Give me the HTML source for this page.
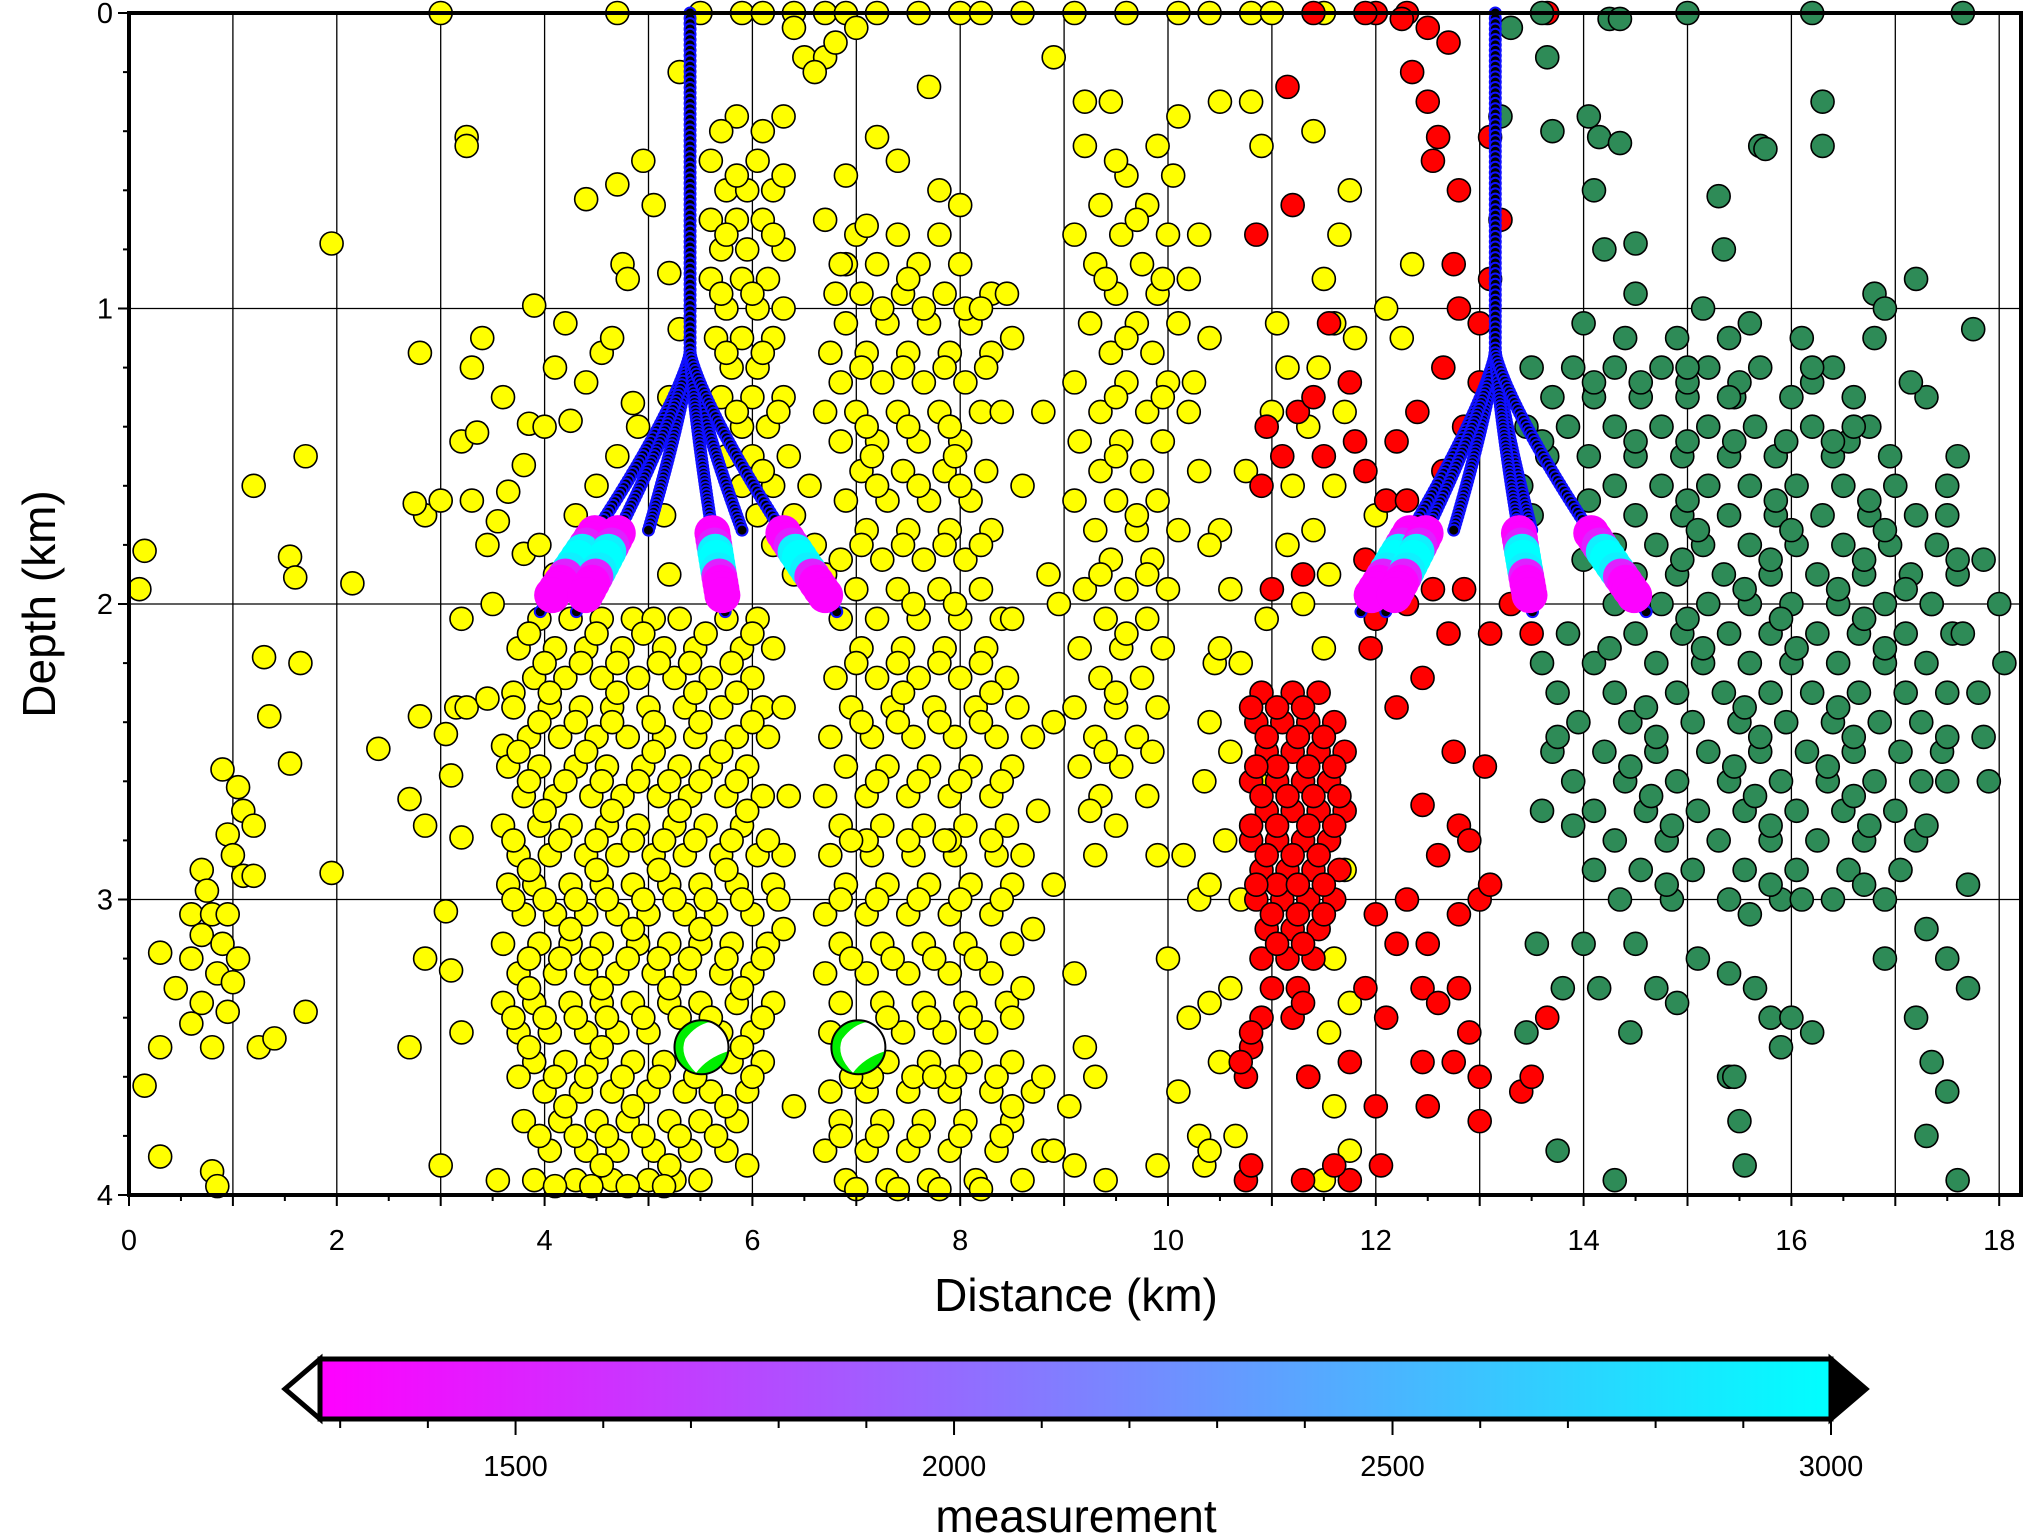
<!DOCTYPE html>
<html><head><meta charset="utf-8"><style>
html,body{margin:0;padding:0;background:#fff}
svg{display:block;font-family:"Liberation Sans",Arial,sans-serif}
</style></head><body>
<svg id="chart" width="2025" height="1537" viewBox="0 0 2025 1537">
<g id="grid"></g>
<g id="pts"></g>
<g id="wells"></g>
<g id="balls"></g>
<g id="axes"></g>
<g id="cbar"></g>
</svg>
<script>
const xTicks=[0,2,4,6,8,10,12,14,16,18];
const yTicks=[0,1,2,3,4];
const cbTicks=[1500,2000,2500,3000];
const cbMin=1277, cbMax=3000;
// yellow events: rows of [depth, x...]
const yellowRows=[
[0,3.0,4.7,5.5,5.9,6.1,6.4,6.7,6.9,7.2,7.6,8.0,8.2,8.6,9.1,9.6,10.1,10.4,10.8,11.0,11.5],
[2.56,0.9],[2.62,1.05],[2.7,1.1],[2.75,1.2],[2.78,0.95],[2.85,1.0],[2.9,0.7],[2.92,1.1,1.2],[2.97,0.75],[3.05,0.6,0.8,0.95],[3.12,0.7],[3.15,0.9],[3.2,1.05,0.6],[3.25,0.85],[3.28,1.0],[3.3,0.45],[3.35,0.7],[3.42,0.6],[3.38,0.95,1.7],[3.5,0.8,0.3,1.25],[3.47,1.4],[3.63,0.15],[3.87,0.3],[3.92,0.8],[3.97,0.85],[3.18,0.3],
[1.82,0.15],[1.95,0.1],[1.6,1.2],[2.18,1.3],[2.38,1.35],[1.84,1.55],[1.91,1.6],[1.5,1.7],[2.2,1.65],[2.54,1.55],[0.78,1.95],[1.93,2.15],[2.91,1.95],[2.49,2.4],[2.66,2.7],[2.38,2.8],[2.75,2.85],[3.5,2.7],[1.15,2.8],[1.7,2.85],[1.66,2.75],[1.65,3.0],[2.44,3.05],[2.58,3.1],[2.79,3.2],[2.05,3.2],[1.45,3.2],[0.42,3.25],[0.45,3.25],[3.9,3.0],[3.2,2.85],[3.04,3.05],[3.24,3.1],[3.45,3.2],[2.35,3.15,3.25],[1.2,3.3],[1.42,3.35],[1.65,3.3],[1.1,3.4],[2.0,3.5],[2.32,3.45],[1.8,3.45],[1.72,3.55],[1.62,3.65],[1.53,3.8],[0.99,3.9],[1.83,3.8],[1.3,3.6],[1.39,3.85],[2.3,3.7],[2.48,3.6],
[2.05,3.95,4.25,4.55,4.85,5.05,5.3,5.75,6.05],
[2.15,3.75,4.1,4.4,4.75,5.15,5.45,5.9,6.2],
[2.25,3.9,4.2,4.55,4.9,5.25,5.6,6.0],
[2.35,3.7,4.05,4.35,4.65,5.0,5.35,5.7,6.1,6.3],
[2.45,3.85,4.15,4.5,4.8,5.15,5.45,5.85,6.15],
[2.55,3.65,3.95,4.3,4.6,4.95,5.3,5.6,5.95],
[2.65,3.8,4.1,4.45,4.75,5.1,5.4,5.75,6.1,6.35],
[2.75,3.6,3.95,4.25,4.6,4.9,5.25,5.55,5.9],
[2.85,3.75,4.05,4.4,4.7,5.05,5.35,5.7,6.05,6.3],
[2.95,3.65,3.9,4.25,4.55,4.85,5.2,5.5,5.85,6.2],
[3.05,3.8,4.1,4.4,4.7,5.0,5.35,5.65,6.0],
[3.15,3.6,3.95,4.25,4.55,4.9,5.2,5.5,5.8,6.15],
[3.25,3.75,4.1,4.4,4.7,5.05,5.35,5.7,6.0],
[3.35,3.6,3.9,4.25,4.55,4.85,5.2,5.5,5.85,6.2],
[3.45,3.75,4.05,4.4,4.7,5.0,5.7,6.0],
[3.55,3.9,4.2,4.5,4.85,5.15,5.8,6.1],
[3.65,4.0,4.35,4.65,5.0,5.35,5.6,5.95],
[3.75,3.8,4.15,4.5,4.8,5.2,5.5,5.85],
[3.85,4.05,4.4,4.7,5.05,5.4,5.75],
[3.95,3.55,3.9,4.3,4.65,5.0,5.25,5.5],
[2.1,3.85,4.5,4.95,5.55,6.0],[2.3,4.05,4.7,5.45,5.85],[2.5,3.75,4.4,5.05,5.7],[2.7,4.0,4.65,5.3,5.95],[2.9,3.85,4.5,5.1,5.75],[3.1,4.25,4.85,5.5,6.3],[3.3,3.85,4.55,5.2,5.9],[3.5,3.85,4.55,5.9],[3.7,4.2,4.85,5.75,6.4],[3.9,4.55,5.2,5.95],
[2.2,4.0,4.35,4.7,5.1,5.4,5.8],[2.4,3.95,4.3,4.65,5.05,5.5,6.0],[2.6,3.85,4.2,4.55,4.9,5.2,5.5,5.85],[2.8,3.7,4.15,4.5,4.85,5.15,5.45,5.8,6.15],[3.0,3.7,4.0,4.3,4.6,4.95,5.25,5.55,5.9,6.25],[3.2,3.85,4.15,4.45,4.8,5.1,5.4,5.75,6.1],[3.4,3.7,4.0,4.3,4.6,4.95,5.3,5.6,6.1],[3.6,3.75,4.1,4.4,4.75,5.1,5.45,6.0],[3.8,3.95,4.3,4.6,4.95,5.3,5.65],[3.97,4.1,4.45,4.8,5.15],
[0.35,5.85,6.3],[0.5,5.6,6.05],[0.6,5.75,5.95,6.2],[0.7,5.6,5.85,6.1],[0.8,5.7,5.95,6.3],[0.9,5.6,5.9,6.15],[1.0,5.75,6.05,6.3],[1.1,5.65,5.9,6.2],[1.2,5.8,6.05],[1.3,5.7,6.0,6.3,5.2],[1.4,5.9,6.15,4.9],[1.5,5.75,6.0,6.35,4.7],[1.6,5.9,6.2,4.5,6.55],[1.7,6.05,6.4,4.3,5.15],[1.8,6.2,6.6,3.95],[1.9,6.4,6.7,4.1,5.2],
[0.4,5.7,6.1],[0.55,5.85,6.3],[0.75,5.75,6.2],[0.95,5.7,6.0],[1.15,5.75,6.1],[1.35,5.85,6.25],[1.55,6.1],
[0.63,4.4],[0.58,4.7],[0.5,4.95],[0.85,4.75],[0.9,4.8],[1.25,4.4],[1.15,4.55],[1.1,4.65],[1.32,4.85],[0.65,5.05],[0.88,5.2],[1.07,5.3],[1.05,4.2],[1.2,4.1],[1.4,4.0],[1.38,4.25],[0.15,6.5,6.7],[0.05,6.4],[0.2,5.3],[0.7,6.7],[0.85,6.9],[0.95,6.8],
[0.75,7.0,7.4,7.8],[0.85,6.85,7.2,7.6,8.0],[0.95,7.05,7.45,7.85,8.3],[1.05,6.9,7.3,7.7,8.1],[1.15,7.1,7.5,7.9,8.3,6.75],[1.25,6.85,7.25,7.65,8.05],[1.35,7.0,7.4,7.8,8.2,6.7],[1.45,6.85,7.2,7.6,8.0],[1.55,7.05,7.45,7.85,8.25],[1.65,6.9,7.3,7.7,8.1],[1.75,7.1,7.5,7.9,8.3],[1.85,6.85,7.25,7.65,8.05],[1.95,7.0,7.4,7.8,8.2],[2.05,6.85,7.2,7.6,8.0,8.4],[2.15,7.05,7.45,7.85,8.25],[2.25,6.8,7.2,7.6,8.0,8.45],[2.35,6.95,7.35,7.75,8.15,8.55],[2.45,6.75,7.15,7.55,7.95,8.35],[2.55,6.9,7.3,7.7,8.1,8.5],[2.65,6.7,7.1,7.5,7.9,8.3],[2.75,6.85,7.25,7.65,8.05,8.45],[2.85,6.75,7.15,7.55,7.95,8.35],[2.95,6.9,7.3,7.7,8.1,8.5],[3.05,6.7,7.1,7.5,7.9,8.3],[3.15,6.85,7.25,7.65,8.05,8.5],[3.25,6.7,7.1,7.5,7.9,8.3],[3.35,6.85,7.25,7.65,8.05,8.45],[3.45,6.75,7.45,7.85,8.25],[3.55,7.3,7.7,8.1,8.5],[3.65,6.75,7.1,7.5,7.9,8.3,8.7],[3.75,6.85,7.25,7.65,8.05,8.5],[3.85,6.7,7.1,7.5,7.9,8.35,8.8],[3.95,6.9,7.3,7.7,8.15,8.6],
[1.0,7.25,7.65,8.05],[1.2,7.05,7.45,7.85,8.25],[1.4,7.1,7.5,7.9],[1.6,7.2,7.6,8.0],[1.8,7.05,7.45,7.85,8.2],[2.0,7.55,7.95],[2.2,7.0,7.4,7.8,8.2],[2.4,7.05,7.4,7.8,8.2],[2.6,7.2,7.6,8.0,8.4],[2.8,7.1,7.5,7.9,8.3],[3.0,6.85,7.2,7.6,8.0,8.4],[3.2,6.95,7.35,7.75,8.15],[3.4,7.3,7.7,8.1,8.5],[3.6,7.15,7.55,7.95,8.35],[3.8,6.85,7.2,7.6,8.0,8.4],[3.98,7.0,7.4,7.8,8.2],
[1.5,7.15,7.95],[2.3,7.45,8.3],[2.8,6.95,7.85],[3.6,6.95,7.75],
[0.3,9.45],[0.45,9.2,9.9],[0.55,9.6,10.05],[0.65,9.35,9.8],[0.75,9.55,10.0,9.1],[0.85,9.3,9.75],[0.95,9.5,9.9],[1.05,9.25,9.7,10.1],[1.15,9.45,9.85],[1.25,9.1,9.6,10.0],[1.35,9.35,9.8,10.2],[1.45,9.15,9.55,9.95],[1.55,9.35,9.75],[1.65,9.1,9.5,9.9],[1.75,9.3,9.7,10.1],[1.85,9.45,9.85],[1.95,9.2,9.6,10.0],[2.05,9.4,9.8],[2.15,9.15,9.55,9.95],[2.25,9.35,9.75],[2.35,9.1,9.5,9.9],[2.45,9.3,9.7],[2.55,9.15,9.55],[2.65,9.35,9.8],[2.75,9.5],[2.85,9.3,9.9],
[0.5,9.5],[0.7,9.7],[0.9,9.4,9.95],[1.1,9.6],[1.3,9.5,9.95],[1.5,9.5],[1.7,9.7],[1.9,9.35,9.8],[2.1,9.6],[2.3,9.5],[2.5,9.4,9.85],[2.7,9.25],
[1.35,8.8],[1.9,8.85],[2.0,8.95],[2.4,8.9],[2.7,8.75],[2.85,8.6],[2.95,8.9],[3.1,8.7],[3.25,9.1],[3.5,9.2],[3.6,9.3],[3.7,9.05],[3.9,9.1],[3.85,8.9],[3.95,9.4],[3.9,9.9],[3.65,10.1],[3.4,10.2],[3.2,10.0],[3.0,10.3],[2.85,10.15],[2.6,10.35],[2.4,10.4],[2.2,10.45],[1.55,10.3],[1.25,10.25],[1.1,10.4],[0.9,10.2],[0.75,10.3],[0.35,10.1],[0.3,9.2],[0.15,8.9],[0.3,10.5],[3.9,10.35],[3.35,10.4],[3.8,10.3],[3.6,8.8],[3.7,8.5],[3.3,8.6],[2.45,8.7],[2.05,8.5],[1.6,8.6],[1.35,8.4],[0.95,8.45],[1.1,8.5],[1.0,8.2],[0.65,8.0],[0.6,7.8],[0.25,7.7],[0.5,7.4],[0.42,7.2],[0.9,7.5],[0.55,6.9],[0.72,7.1],[0.2,6.6],[0.1,6.8],[0.05,7.0],
[0.3,10.8],[0.45,10.9],[1.2,11.15],[1.35,11.0],[1.55,10.75],[0.9,11.5],[1.05,11.6],[1.2,11.45],[1.4,11.35],[1.6,11.6],[1.75,11.4],[1.9,11.55],[2.0,11.3],[2.15,11.5],[1.35,11.7],[1.1,11.8],[0.75,11.65],[1.6,11.2],[1.8,11.15],[1.05,11.05],[2.05,10.95],[2.2,10.7],[2.15,10.5],[2.5,10.6],[2.8,10.55],[2.95,10.4],[3.0,10.7],[3.3,10.6],[3.55,10.5],[3.8,10.65],[3.85,10.4],[2.9,11.7],[3.2,11.6],[3.35,11.75],[3.45,11.55],[3.7,11.6],[3.95,11.5],[3.85,11.75],[3.6,11.35],[2.6,10.85],[0.4,11.4],[0.6,11.75],[1.75,10.5],[1.8,10.4],[1.95,10.6],[1.7,12.0],[1.1,12.25],[1.0,12.1],[0.85,12.35]
];
const redRows=[
[2.3,10.9,11.2,11.45],[2.4,10.85,11.1,11.35,11.6],[2.5,10.95,11.2,11.45,11.7],[2.6,10.8,11.05,11.3,11.55],[2.7,10.95,11.2,11.45,11.7],[2.8,10.8,11.05,11.3,11.55],[2.9,10.9,11.15,11.4,11.65],[3.0,10.85,11.1,11.35,11.6],[3.1,10.95,11.2,11.45],[3.2,10.9,11.15,11.4],[3.3,11.0,11.25],[3.4,10.9,11.2],[3.5,10.8],[3.6,10.75,11.35],
[2.45,10.95,11.25,11.5],[2.65,10.9,11.15,11.4,11.65],[2.85,10.95,11.2,11.45],[3.05,11.0,11.25,11.5],[2.35,11.05,11.3,10.8],[2.55,11.05,11.35,11.6,10.85],[2.75,11.05,11.35,11.6,10.8],[2.95,11.05,11.25,11.5,10.85],[3.15,11.3],[3.35,11.3],
[0.25,11.15],[0.75,10.85],[0.65,11.2],[0,12.0,11.4,11.9,13.65,12.3],[0.02,12.25],[0.05,12.5],[0.2,12.35],[0.3,12.5],[0.1,12.7],[0.42,12.6,13.1],[0.6,12.8],[0.5,12.55],[0.85,12.75],[1.2,12.65],[1.35,12.4],[1.45,12.2],[1.65,12.1,12.3],[1.85,11.9],[1.5,11.1,11.5],[1.6,10.9],[1.35,11.25],[1.25,11.75],[1.45,11.8],[1.3,11.4],[1.4,10.95],[1.9,11.3],[1.95,11.0],[1.55,12.65],[1.4,12.85],[1.25,13.0],[1.0,12.8],[1.05,13.0],[1.95,12.55],[2.1,12.7],[2.25,12.45],[2.35,12.2],[2.5,12.75],[2.68,12.45],[2.85,12.6],[2.75,12.8],[2.55,13.05],[2.8,12.9],[3.0,13.0],[3.05,12.8],[2.95,13.1],[3.15,12.5],[3.0,12.3],[3.05,12.0],[3.15,12.2],[3.3,12.45],[3.4,12.1],[3.35,12.6],[3.3,12.8],[3.45,12.9],[3.55,12.75],[3.55,12.45],[3.7,12.0],[3.95,11.75],[3.9,11.6],[3.95,10.75],[3.9,10.8],[3.3,11.9],[3.55,11.75],[3.6,13.0],[3.65,13.4],[3.6,13.5],[3.4,13.65],[3.75,13.0],[3.7,12.5],[3.9,12.05],[3.45,10.8],[3.55,10.7],[3.15,11.05],[3.95,11.3],[2.0,12.3],[2.05,12.0],[2.15,11.95],[2.1,13.1],[2.0,13.3],[2.1,13.5],[1.95,12.85],[1.05,11.55],[1.55,11.9],[0.7,13.2],[0.9,13.1]
];
const greenRows=[
[0.05,13.3],[0.15,13.65],[0,13.6,16.2,17.65,15.0],[0.35,13.2,14.05],[0.42,14.15],[0.44,14.35],[0.02,14.25,14.35],[0.6,14.1],[0.45,15.7,16.3],[0.46,15.75],[1.05,14.0],[0.8,14.2],[0.78,14.5],[0.95,14.5],[0.62,15.3],[0.8,15.35],[0.3,16.3],[0.95,16.8],[1.0,16.9],[0.9,17.2],[1.07,17.75],[1.85,17.85],[2.0,18.0],[2.2,18.05],[0.4,13.7],
[1.1,14.4,14.9,15.4,16.1,16.8],[1.2,13.5,13.9,14.3,14.75,15.2,15.7,16.4],[1.3,13.7,14.1,14.55,15.0,15.45,16.0,16.6,17.3],[1.4,13.45,13.85,14.3,14.75,15.2,15.65,16.2,16.75],[1.5,13.65,14.05,14.5,14.95,15.4,15.85,16.4,16.95],[1.6,13.4,14.3,14.75,15.2,15.6,16.05,16.5,17.0,17.5],[1.7,13.5,14.5,14.95,15.4,15.85,16.3,16.75,17.2],[1.8,14.3,14.7,15.15,15.6,16.05,16.5,16.95,17.4],[1.9,14.5,14.9,15.35,15.8,16.25,16.7,17.15,17.6],[2.0,14.3,14.75,15.2,15.6,16.0,16.45,16.9,17.35],[2.1,13.85,14.5,14.95,15.4,15.8,16.25,16.65,17.1,17.55],[2.2,13.6,14.1,14.7,15.15,15.6,16.0,16.45,16.9,17.3],[2.3,13.75,14.3,14.9,15.35,15.8,16.2,16.65,17.1,17.5],[2.4,13.95,14.45,15.05,15.5,15.95,16.4,16.85,17.25],[2.5,13.7,14.2,14.7,15.2,15.7,16.15,16.6,17.05,17.45],[2.6,13.9,14.4,14.9,15.4,15.9,16.35,16.8,17.25],[2.7,13.6,14.1,14.6,15.1,15.55,16.05,16.5,17.0],[2.8,14.3,14.8,15.3,15.8,16.25,16.7,17.2],[2.9,14.1,14.55,15.05,15.55,16.05,16.55,17.05],[3.0,14.35,14.85,15.4,15.9,16.4,16.9],
[1.75,15.1,16.0,16.9],[2.05,15.0,15.9,16.7],[2.35,14.6,15.55,16.45],[2.65,14.65,15.65,16.6],[2.95,14.8,15.8,16.7],[1.45,15.0,15.95,16.55],
[1.25,14.1,14.55,15.0,15.5,16.2],[1.45,13.6,14.5,15.45,16.4],[1.65,14.05,15.0,15.85,16.75],[1.85,14.0,14.95,15.8,16.7,17.6],[2.15,14.25,15.15,16.05,16.9],[2.45,13.75,14.7,15.7,16.6,17.5],[2.75,13.9,14.85,15.8,16.75],[2.55,14.45,15.45,16.35],[1.95,15.55,16.45,17.1],
[3.15,13.55,14.0,14.5],[3.3,14.15,14.7,13.8,15.65],[3.45,14.45,13.45],[3.35,14.9],[3.2,15.1,16.9,17.5],[3.25,15.4],[3.4,15.8,16.0,17.2],[3.5,15.9],[3.05,15.6],[3.45,16.2],[3.1,17.3],[3.3,17.7],[3.8,17.3],[3.65,17.5],[3.55,17.35],[3.6,15.4,15.45],[3.75,15.5],[3.9,15.55],[3.95,14.3,17.6],[3.85,13.75],[2.95,17.7],[2.6,17.5],[2.75,17.3],[3.0,16.1],[1.0,15.15],[1.3,15.4],[1.05,15.6],[1.2,15.0],[1.7,17.5],[1.5,17.6],[1.25,17.15],[1.4,16.6],[1.2,16.2],[2.0,17.35],[2.1,17.65],[2.3,17.8],[2.45,17.85],[2.6,17.9]
];
// wells
const wellTrunkX=[5.4,13.15];
const wellKink=1.15;
const leftEndX=[3.95,4.3,5.74,6.82];
const rightEndX=[11.85,12.09,13.51,14.61];
const endDepth=2.03;
const leftShortX=[5.0,5.9];
const rightShortX=[12.75,13.5];
const shortDepth=1.75;
const segDepthTop=1.76, segDepthBot=1.97;
const segValues=[1300,1300,1500,2900,3000,3000,2900,1500,1300,1300,1300];
const beachX=[5.51,7.02];
const beachD=[3.5,3.5];

const NS='http://www.w3.org/2000/svg';
const L=129,T=13,B=1195,R=2021;
function X(v){return L+v*103.9;}
function Y(d){return T+d*295.5;}
function mk(tag,attrs,parent){const e=document.createElementNS(NS,tag);for(const k in attrs)e.setAttribute(k,attrs[k]);parent.appendChild(e);return e;}
function cmap(v){let t=(v-cbMin)/(cbMax-cbMin);t=Math.max(0,Math.min(1,t));const r=Math.round(255*(1-t)),g=Math.round(255*t);return 'rgb('+r+','+g+',255)';}

const grid=document.getElementById('grid');
for(let k=1;k<=18;k++){
  const g=mk('line',{x1:X(k),x2:X(k),y1:T,y2:B,stroke:'#000','stroke-width':1.3},grid);
  
  
}
for(let k=1;k<=3;k++){
  const g=mk('line',{x1:L,x2:R,y1:Y(k),y2:Y(k),stroke:'#000','stroke-width':1.3},grid);
  
  
}
const pts=document.getElementById('pts');
function drawRows(rows,fill,name){
  for(const row of rows){const d=row[0];
    for(let i=1;i<row.length;i++){
      const c=mk('circle',{cx:X(row[i]),cy:Y(d),r:11.5,fill:fill,stroke:'#000','stroke-width':1.6},pts);
      
      
    }}
}
drawRows(yellowRows,'#ffff00','yellow-event');
drawRows(redRows,'#ff0000','red-event');
drawRows(greenRows,'#2e8b57','green-event');

const wells=document.getElementById('wells');
// branch x at depth d (shape function)
function branchX(x0,ex,ed,d){
  const s=Math.max(0,Math.min(1,(d-wellKink)/(ed-wellKink)));
  return x0+(ex-x0)*Math.pow(s,1.25);
}
function dot(x,d,name){
  const c=mk('circle',{cx:X(x),cy:Y(d),r:5.5,fill:'#000',stroke:'#1010ff','stroke-width':2},wells);
  
  
}
function drawWell(x0,ends,shorts){
  for(let d=0;d<=wellKink;d+=0.018) dot(x0,d,'well-trunk-point');
  for(const ex of shorts){
    for(let d=wellKink;d<=shortDepth+0.001;d+=0.012) dot(branchX(x0,ex,shortDepth,d),d,'well-branch-point');
  }
  for(const ex of ends){
    for(let d=wellKink;d<=endDepth+0.001;d+=0.012) dot(branchX(x0,ex,endDepth,d),d,'well-branch-point');
  }
  for(const ex of ends){
    for(let i=0;i<segValues.length;i++){
      const d=segDepthTop+(segDepthBot-segDepthTop)*i/(segValues.length-1);
      const c=mk('circle',{cx:X(branchX(x0,ex,endDepth,d)),cy:Y(d),r:18,fill:cmap(segValues[i])},wells);
      
      
    }
  }
}
drawWell(wellTrunkX[0],leftEndX,leftShortX);
drawWell(wellTrunkX[1],rightEndX,rightShortX);

const balls=document.getElementById('balls');
for(let i=0;i<beachX.length;i++){
  const cx=X(beachX[i]),cy=Y(beachD[i]),r=27;
  const g=mk('g',{},balls);
  
  
  mk('circle',{cx:cx,cy:cy,r:r,fill:'#00ee00'},g);
  mk('path',{d:'M'+(cx+r*0.35)+','+(cy-r*0.94)+' A'+r+','+r+' 0 0 1 '+(cx+r*0.98)+','+(cy+r*0.15)+' Q'+(cx+r*0.2)+','+(cy+r*0.4)+' '+(cx-r*0.2)+','+(cy+r*0.95)+' Q'+(cx-r*0.85)+','+(cy+r*0.3)+' '+(cx-r*0.6)+','+(cy-r*0.3)+' Q'+(cx-r*0.2)+','+(cy-r*0.85)+' '+(cx+r*0.35)+','+(cy-r*0.94)+'Z',fill:'#fff'},g);
  mk('circle',{cx:cx,cy:cy,r:r,fill:'none',stroke:'#000','stroke-width':2},g);
}

const axes=document.getElementById('axes');
const fr=mk('rect',{x:L,y:T,width:R-L,height:B-T,fill:'none',stroke:'#000','stroke-width':4},axes);


for(let v=0;v<=18.01;v+=0.5){
  const major=Math.abs(v-Math.round(v))<0.01;
  mk('line',{x1:X(v),x2:X(v),y1:B,y2:B+(major?11:6),stroke:'#000','stroke-width':2},axes);
}
for(const v of xTicks){
  const t=mk('text',{x:X(v),y:1250,'font-size':29,'text-anchor':'middle'},axes);
  t.textContent=v;
  
  
}
for(let d=0;d<=4.001;d+=0.2){
  const major=Math.abs(d-Math.round(d))<0.01;
  mk('line',{x1:L,x2:L-(major?11:6),y1:Y(d),y2:Y(d),stroke:'#000','stroke-width':2},axes);
}
for(const d of yTicks){
  const t=mk('text',{x:113,y:Y(d)+10,'font-size':29,'text-anchor':'end'},axes);
  t.textContent=d;
  
  
}
const xt=mk('text',{x:1076,y:1311,'font-size':46,'text-anchor':'middle'},axes);
xt.textContent='Distance (km)';


const yt=mk('text',{x:0,y:0,'font-size':46,'text-anchor':'middle',transform:'translate(55,604) rotate(-90)'},axes);
yt.textContent='Depth (km)';



const cb=document.getElementById('cbar');
const CX0=320,CX1=1831,CY0=1359,CY1=1419;
function CB(v){return CX0+(v-cbMin)/(cbMax-cbMin)*(CX1-CX0);}
const defs=mk('defs',{},cb);
const lg=mk('linearGradient',{id:'cg',x1:0,x2:1,y1:0,y2:0},defs);
mk('stop',{offset:'0','stop-color':cmap(cbMin)},lg);
mk('stop',{offset:'1','stop-color':cmap(cbMax)},lg);
const bar=mk('rect',{x:CX0,y:CY0,width:CX1-CX0,height:CY1-CY0,fill:'url(#cg)',stroke:'#000','stroke-width':5},cb);


const lt=mk('polygon',{points:CX0+','+CY0+' 285,'+((CY0+CY1)/2)+' '+CX0+','+CY1,fill:'#fff',stroke:'#000','stroke-width':5},cb);


const rt=mk('polygon',{points:CX1+','+CY0+' 1866,'+((CY0+CY1)/2)+' '+CX1+','+CY1,fill:'#000',stroke:'#000','stroke-width':5},cb);


for(let v=1300;v<=3000;v+=100){
  const major=v%500===0;
  mk('line',{x1:CB(v),x2:CB(v),y1:CY1,y2:CY1+(major?16:9),stroke:'#000','stroke-width':2},cb);
}
for(const v of cbTicks){
  const t=mk('text',{x:CB(v),y:1476,'font-size':29,'text-anchor':'middle'},cb);
  t.textContent=v;
  
  
}
const ct=mk('text',{x:1076,y:1532,'font-size':46,'text-anchor':'middle'},cb);
ct.textContent='measurement';


</script>
</body></html>
